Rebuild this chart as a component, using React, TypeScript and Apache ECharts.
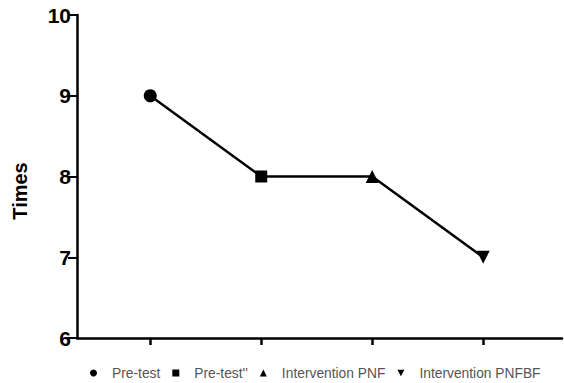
import React, { useEffect, useRef } from "react";
import * as echarts from "echarts";

const categories = ["Pre-test", "Pre-test''", "Intervention PNF", "Intervention PNFBF"];
const positions = [1, 2, 3, 4];
const values = [9, 8, 8, 7];
const yTicks = [6, 7, 8, 9, 10];
const symbols = ["circle", "rect", "triangle", "path://M0,0L10,0L5,9Z"];

export default function App() {
  const ref = useRef<HTMLDivElement>(null);
  useEffect(() => {
    if (!ref.current) return;
    const chart = echarts.init(ref.current, null, { renderer: "svg" });
    const font = "'Liberation Sans', Arial, sans-serif";
    const scatter = categories.map((name, i) => ({
      type: "scatter",
      name,
      data: [[positions[i], values[i]]],
      symbol: symbols[i],
      symbolSize: i === 1 ? 12 : 13,
      itemStyle: { color: "#000", opacity: 1 },
      z: 5,
    }));
    chart.setOption({
      animation: false,
      grid: { left: 77, right: 2, top: 15, bottom: 45 },
      xAxis: {
        type: "value",
        min: 0.34,
        max: 4.71,
        splitLine: { show: false },
        axisLine: { show: true, onZero: false, lineStyle: { color: "#000", width: 2.5 } },
        axisTick: { show: true, customValues: positions, length: 7, lineStyle: { color: "#000", width: 2.5 } },
        axisLabel: { show: false },
      },
      yAxis: {
        type: "value",
        min: yTicks[0],
        max: yTicks[yTicks.length - 1],
        interval: 1,
        splitLine: { show: false },
        axisLine: { show: true, lineStyle: { color: "#000", width: 2.5 } },
        axisTick: { show: true, length: 9, lineStyle: { color: "#000", width: 2 } },
        axisLabel: { color: "#000", fontSize: 21, fontWeight: "bold", fontFamily: font, margin: 6 },
      },
      legend: {
        data: categories.map((name, i) => ({ name, icon: symbols[i], itemStyle: { color: "#000", opacity: 1 } })),
        left: 85,
        top: 361,
        itemWidth: 7,
        itemHeight: 7,
        itemGap: 12,
        textStyle: { color: "#555", fontSize: 13.8, fontFamily: font, padding: [0, 0, 0, 10] },
      },
      graphic: [
        {
          type: "text",
          x: 20,
          y: 191,
          rotation: Math.PI / 2,
          style: {
            text: "Times",
            fontSize: 20,
            fontWeight: "bold",
            fontFamily: font,
            fill: "#000",
            align: "center",
            verticalAlign: "middle",
          },
        },
      ],
      series: [
        {
          type: "line",
          data: positions.map((p, i) => [p, values[i]]),
          showSymbol: false,
          lineStyle: { color: "#000", width: 2.5 },
          itemStyle: { color: "#000" },
          z: 3,
        },
        ...scatter,
      ],
    });
    return () => chart.dispose();
  }, []);
  return <div ref={ref} style={{ width: 564, height: 383, position: "absolute", left: 0, top: 0 }} />;
}
